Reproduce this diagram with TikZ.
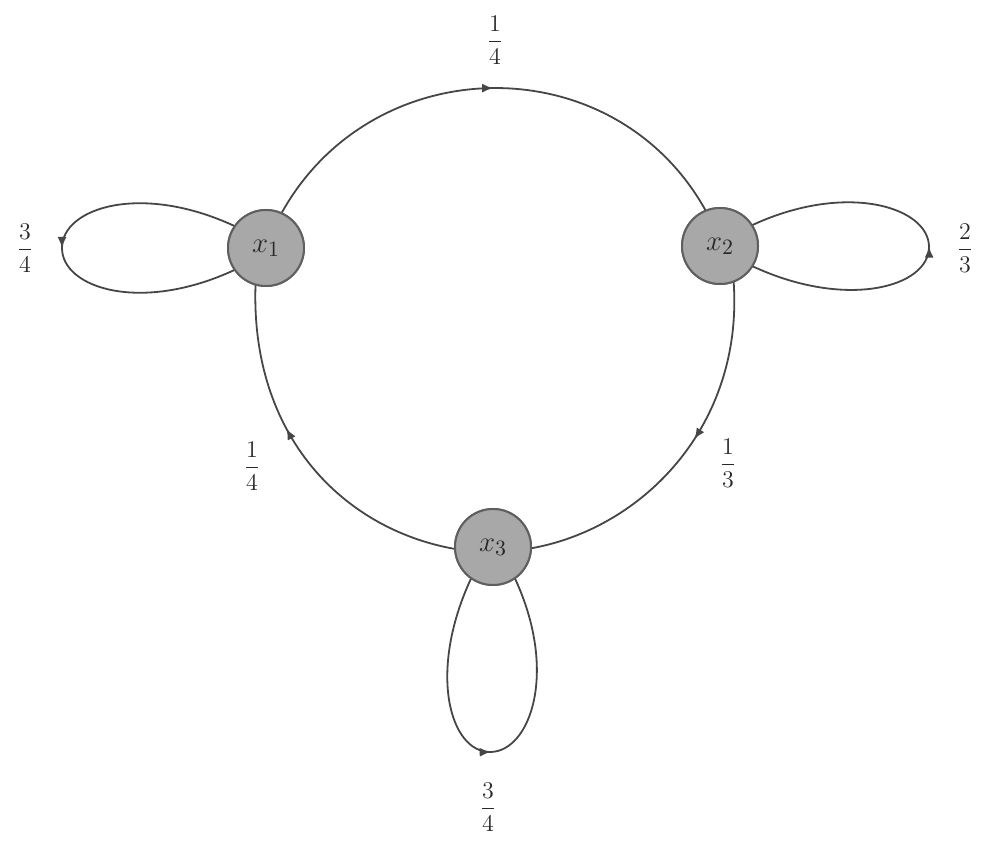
\documentclass[tikz,border=0pt]{standalone}
\usetikzlibrary{arrows.meta,decorations.markings}
\definecolor{edgecol}{RGB}{70,70,70}
\definecolor{textcol}{RGB}{40,40,40}
\definecolor{nodefill}{RGB}{168,168,168}
\definecolor{nodeborder}{RGB}{95,95,95}
\tikzset{
  state/.style={circle,draw=nodeborder,line width=1pt,fill=nodefill,minimum size=38pt,inner sep=0pt,outer sep=0pt,font=\fontsize{15}{18}\selectfont,text=textcol},
  edge/.style={draw=edgecol,line width=0.9pt},
  arrowat/.style={postaction={decorate},decoration={markings,mark=at position #1 with {\arrow{Latex[length=5.5pt,width=4.5pt]}}}},
  prob/.style={inner sep=0pt,font=\fontsize{12.5}{15}\selectfont,text=textcol},
  loopa/.style={out distance=52pt,in distance=20pt},
  loopb/.style={out distance=20pt,in distance=52pt}
}
\begin{document}
\begin{tikzpicture}[x=0.5pt,y=0.5pt]
\useasboundingbox (0,0) rectangle (983,846);
% nodes
\node[state] (x1) at (266,598) {$x_1$};
\node[state] (x2) at (720,600) {$x_2$};
\node[state] (x3) at (493,299) {$x_3$};
% loop tips
\coordinate (t1) at (62,598);
\coordinate (t2) at (929,599);
\coordinate (t3) at (490,94);
% edges of the cycle
\draw[edge,arrowat=0.5] (x1.66) to[out=61,in=119,distance=94.5pt] (x2.112);
\draw[edge,arrowat=0.45] (x2.291) to[out=-86,in=10,out distance=72.5pt,in distance=56.5pt] (x3.-2);
\draw[edge,arrowat=0.59] (x3.183) to[out=170,in=-92,out distance=56.5pt,in distance=76pt] (x1.254);
% self loops
\draw[edge,arrowat=0.5] (x1.145) to[out=155,in=90,loopa] (t1) to[out=-90,in=205,loopb] (x1.215);
\draw[edge,arrowat=0.5] (x2.-32) to[out=-25,in=-90,loopa] (t2) to[out=90,in=25,loopb] (x2.33);
\draw[edge,arrowat=0.5] (x3.235) to[out=245,in=180,loopa] (t3) to[out=0,in=295,loopb] (x3.305);
% redraw nodes on top
\node[state] at (x1) {$x_1$};
\node[state] at (x2) {$x_2$};
\node[state] at (x3) {$x_3$};
% labels
\node[prob] (l12) at (495,806) {$\displaystyle\frac{1}{4}$};
\node[prob] (l11) at (25,598) {$\displaystyle\frac{3}{4}$};
\node[prob] (l22) at (965,598) {$\displaystyle\frac{2}{3}$};
\node[prob] (l31) at (252,380) {$\displaystyle\frac{1}{4}$};
\node[prob] (l23) at (728,383) {$\displaystyle\frac{1}{3}$};
\node[prob] (l33) at (488,39) {$\displaystyle\frac{3}{4}$};
\end{tikzpicture}
\end{document}
